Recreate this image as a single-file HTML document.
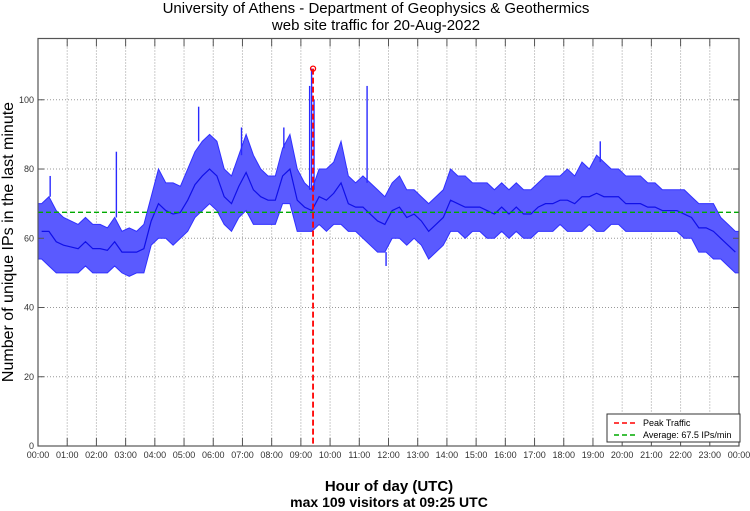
<!DOCTYPE html>
<html><head><meta charset="utf-8"><style>
body{margin:0;background:#fff}
svg{display:block;font-family:"Liberation Sans",sans-serif}
</style></head><body>
<svg id="chart" width="750" height="511" viewBox="0 0 750 511">
<text x="376" y="13" text-anchor="middle" font-size="15">University of Athens - Department of Geophysics &amp; Geothermics</text>
<text x="376" y="30" text-anchor="middle" font-size="15">web site traffic for 20-Aug-2022</text>
<text transform="translate(13,242) rotate(-90)" text-anchor="middle" font-size="16">Number of unique IPs in the last minute</text>
<text x="389" y="491" text-anchor="middle" font-size="15" font-weight="bold">Hour of day (UTC)</text>
<text x="389" y="507" text-anchor="middle" font-size="14" font-weight="bold">max 109 visitors at 09:25 UTC</text>
<g id="grid"></g><g id="series"></g><g id="axes"></g>
<g>
<rect x="607" y="414" width="133" height="28" fill="#fff" stroke="#333" stroke-width="1"/>
<line x1="614" y1="423" x2="638" y2="423" stroke="#f00" stroke-width="1.5" stroke-dasharray="5,3"/>
<text x="643" y="426" font-size="9">Peak Traffic</text>
<line x1="614" y1="435" x2="638" y2="435" stroke="#0a0" stroke-width="1.5" stroke-dasharray="5,3"/>
<text x="643" y="438" font-size="9">Average: 67.5 IPs/min</text>
</g>
</svg>
<script>
const hiVals=[70,72,68,66,65,64,66,64,64,63,66,62,63,62,64,72,80,76,76,75,80,85,88,90,88,80,78,84,90,84,80,78,78,86,90,80,76,74,80,80,82,88,78,76,78,76,74,72,76,78,74,74,72,70,72,74,80,78,78,76,76,76,74,76,74,76,74,74,76,78,78,78,80,78,82,80,84,82,80,80,78,78,78,76,76,74,74,74,74,72,70,70,70,66,64,62];
const loVals=[54,52,50,50,50,50,52,50,50,50,52,50,49,50,50,58,60,60,58,60,62,66,68,70,68,64,62,66,68,64,64,64,64,70,70,62,62,62,64,62,64,64,62,62,60,58,56,56,60,60,58,60,58,54,56,58,62,62,60,62,62,60,60,62,60,62,60,60,62,62,62,64,62,62,62,64,62,62,64,64,62,62,62,62,62,62,62,62,60,60,56,56,54,54,52,50];
const spikeMinutes=[25,161,330,418,505,558,562,567,625,676,715,1155];
const spikeValues=[78,85,98,92,92,104,109,100,88,104,52,88];
const yTicks=[0,20,40,60,80,100];
const xTickLabels=["00:00","01:00","02:00","03:00","04:00","05:00","06:00","07:00","08:00","09:00","10:00","11:00","12:00","13:00","14:00","15:00","16:00","17:00","18:00","19:00","20:00","21:00","22:00","23:00","00:00"];
const avgValue=67.5, peakMinute=565, peakValue=109;
const X0=38,X1=739,Y0=446,Y1=38.5,YMAX=117.7;
const xs=m=>X0+(X1-X0)*m/1440;
const ys=v=>Y0-(Y0-Y1)*v/YMAX;
const NS="http://www.w3.org/2000/svg";
function mk(tag,attrs,parent){const e=document.createElementNS(NS,tag);for(const k in attrs)e.setAttribute(k,attrs[k]);parent.appendChild(e);return e;}
const gridG=document.getElementById('grid'),seriesG=document.getElementById('series'),axesG=document.getElementById('axes');
yTicks.forEach(v=>{
  const g=mk('line',{x1:X0,x2:X1,y1:ys(v),y2:ys(v),stroke:'#999','stroke-dasharray':'1,2'},gridG);
  
  
  const t=mk('text',{x:X0-4,y:ys(v)+3,'text-anchor':'end','font-size':9,fill:'#333'},axesG);t.textContent=v;
  
  
  mk('line',{x1:X0,x2:X0+6,y1:ys(v),y2:ys(v),stroke:'#555'},axesG);
  mk('line',{x1:X1,x2:X1-6,y1:ys(v),y2:ys(v),stroke:'#555'},axesG);
});
xTickLabels.forEach((lab,i)=>{
  const x=xs(i*60);
  const g=mk('line',{x1:x,x2:x,y1:Y1,y2:Y0,stroke:'#999','stroke-dasharray':'1,2'},gridG);
  
  
  mk('line',{x1:x,x2:x,y1:Y0,y2:Y0-8,stroke:'#555'},axesG);
  mk('line',{x1:x,x2:x,y1:Y1,y2:Y1+8,stroke:'#555'},axesG);
  const t=mk('text',{x:x,y:Y0+12,'text-anchor':'middle','font-size':9,fill:'#333'},axesG);t.textContent=lab;
  
  
});
const frame=mk('rect',{x:X0,y:Y1,width:X1-X0,height:Y0-Y1,fill:'none',stroke:'#555','stroke-width':1.2},axesG);


const upperPts=[],lowerPts=[];
hiVals.forEach((v,i)=>upperPts.push(xs(i*15+7.5)+','+ys(v)));
loVals.forEach((v,i)=>lowerPts.push(xs(i*15+7.5)+','+ys(v)));
lowerPts.reverse();
const band=mk('polygon',{points:[xs(0)+','+ys(hiVals[0]),...upperPts,xs(1440)+','+ys(hiVals[hiVals.length-1]),xs(1440)+','+ys(loVals[loVals.length-1]),...lowerPts,xs(0)+','+ys(loVals[0])].join(' '),fill:'#5a5aff',stroke:'#3030ff','stroke-width':1},seriesG);


const mid=hiVals.map((h,i)=>xs(i*15+7.5)+','+ys((h+loVals[i])/2)).join(' ');
const ml=mk('polyline',{points:mid,fill:'none',stroke:'#1010e8','stroke-width':1.2},seriesG);


spikeMinutes.forEach((m,i)=>{
  const slot=Math.min(hiVals.length-1,Math.floor(m/15));
  const base=spikeValues[i]<loVals[slot]?loVals[slot]:hiVals[slot];
  const s=mk('line',{x1:xs(m),x2:xs(m),y1:ys(base),y2:ys(spikeValues[i]),stroke:'#2a2aff','stroke-width':1.4},seriesG);
  
  
});
const avg=mk('line',{x1:X0,x2:X1,y1:ys(avgValue),y2:ys(avgValue),stroke:'#0a0','stroke-width':1.3,'stroke-dasharray':'5,3'},seriesG);


const pk=mk('line',{x1:xs(peakMinute),x2:xs(peakMinute),y1:ys(peakValue),y2:Y0,stroke:'#f00','stroke-width':1.8,'stroke-dasharray':'6,3'},seriesG);


const pc=mk('circle',{cx:xs(peakMinute),cy:ys(peakValue),r:2.5,fill:'none',stroke:'#f00','stroke-width':1.3},seriesG);


</script>
</body></html>
